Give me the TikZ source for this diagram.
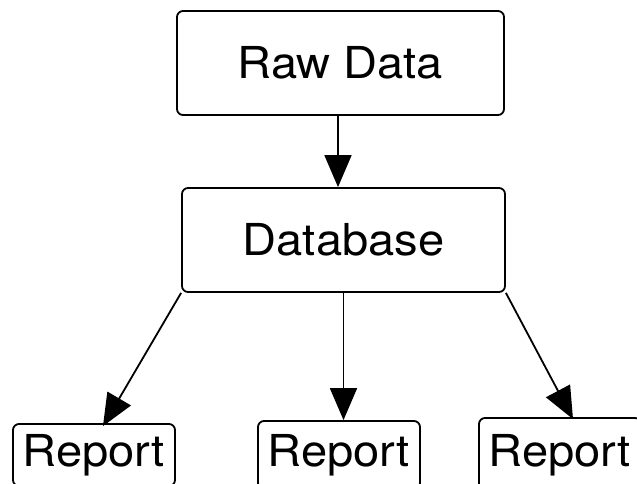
\documentclass[tikz,border=0pt]{standalone}
\usepackage{fontspec}
\setmainfont{TeX Gyre Heros}[FakeStretch=1.07]
\usetikzlibrary{arrows.meta}
\tikzset{
  box/.style={draw, line width=1.8pt, rounded corners=6pt, inner sep=0pt,
    font=\fontsize{44}{50}\selectfont},
  flow/.style={line width=1.8pt, -{Triangle[length=32pt,width=27pt]}}
}
\begin{document}
\begin{tikzpicture}[x=1pt, y=-1pt]
  \useasboundingbox (0,0) rectangle (637,483);
  \clip (0,0) rectangle (637,483);
  \fill[white] (0,0) rectangle (637,483);

  % source and store
  \node[box, minimum width=327pt, minimum height=104pt] (raw) at (340.5,63) {Raw Data};
  \node[box, minimum width=323pt, minimum height=104pt] (db)  at (343.5,240) {Database};

  % output reports (bottoms run off the page)
  \node[box, minimum width=162pt, minimum height=62pt] (r1) at (94,455)  {Report};
  \node[box, minimum width=162pt, minimum height=68pt] (r2) at (339,455) {Report};
  \node[box, minimum width=162pt, minimum height=74pt] (r3) at (560,455) {Report};

  % connectors
  \draw[flow] ([xshift=-2.5pt]raw.south) -- ([xshift=-2.5pt]raw.south |- db.north);
  \draw[flow] (db.south west) -- ([xshift=9pt,yshift=-3pt]r1.north);
  \draw[flow] (db.south) -- (db.south |- r2.north);
  \draw[flow] (db.south east) -- ([xshift=13pt,yshift=-2pt]r3.north);
\end{tikzpicture}
\end{document}
